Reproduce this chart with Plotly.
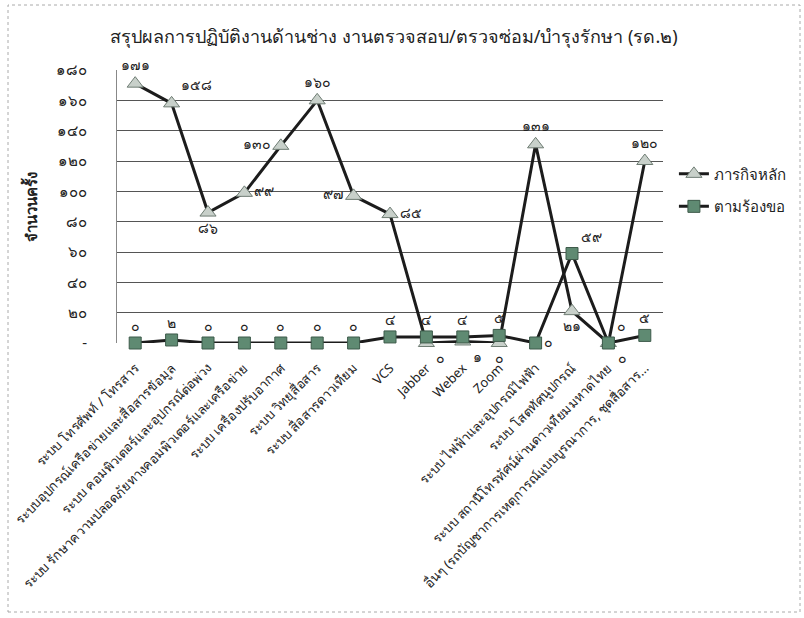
import plotly.graph_objects as go

title = "สรุปผลการปฏิบัติงานด้านช่าง งานตรวจสอบ/ตรวจซ่อม/บำรุงรักษา (รด.๒)"
categories = [
    "ระบบ โทรศัพท์ / โทรสาร",
    "ระบบอุปกรณ์เครือข่ายและสื่อสารข้อมูล",
    "ระบบ คอมพิวเตอร์และอุปกรณ์ต่อพ่วง",
    "ระบบ รักษาความปลอดภัยทางคอมพิวเตอร์และเครือข่าย",
    "ระบบ เครื่องปรับอากาศ",
    "ระบบ วิทยุสื่อสาร",
    "ระบบ สื่อสารดาวเทียม",
    "VCS",
    "Jabber",
    "Webex",
    "Zoom",
    "ระบบ ไฟฟ้าและอุปกรณ์ไฟฟ้า",
    "ระบบ โสตทัศนูปกรณ์",
    "ระบบ สถานีโทรทัศน์ผ่านดาวเทียมมหาดไทย",
    "อื่นๆ (รถบัญชาการเหตุการณ์แบบบูรณาการ, ชุดสื่อสาร...",
]
main_mission = [171, 158, 86, 99, 130, 160, 97, 85, 0, 1, 0, 131, 21, 0, 120]
on_request = [0, 2, 0, 0, 0, 0, 0, 4, 4, 4, 5, 0, 59, 0, 5]
series_names = ["ภารกิจหลัก", "ตามร้องขอ"]
y_tickvals = [0, 20, 40, 60, 80, 100, 120, 140, 160, 180]
y_ticktext = ["-", "๒๐", "๔๐", "๖๐", "๘๐", "๑๐๐", "๑๒๐", "๑๔๐", "๑๖๐", "๑๘๐"]
y_title = "จำนวนครั้ง"

thai = str.maketrans("0123456789", "๐๑๒๓๔๕๖๗๘๙")
def th(v):
    return str(v).translate(thai)

main_pos = ["top center", "top right", "bottom center", "middle right", "middle left",
            "top center", "middle left", "middle right", "bottom right", "bottom right",
            "bottom center", "top center", "bottom center", "bottom right", "top center"]
req_pos = ["top center"] * 11 + ["middle right", "top right", "top right", "top center"]

FONT = "Noto Sans, DejaVu Sans, sans-serif"
x = list(range(len(categories)))

fig = go.Figure()
fig.add_trace(go.Scatter(
    x=x, y=main_mission, name=series_names[0], mode="lines+markers+text",
    legendgroup="a", cliponaxis=False,
    line=dict(color="#1c1c1c", width=3),
    marker=dict(symbol="triangle-up", size=14, color="#c8d0ca",
                line=dict(color="#6f7d74", width=1)),
    text=[th(v) for v in main_mission], textposition=main_pos,
    textfont=dict(size=14, color="#222222", family=FONT),
))
fig.add_trace(go.Scatter(
    x=x, y=on_request, name=series_names[1], mode="lines+markers+text",
    legendgroup="b", cliponaxis=False,
    line=dict(color="#1c1c1c", width=3),
    marker=dict(symbol="square", size=12, color="#5f8a72",
                line=dict(color="#3d5a4a", width=1)),
    text=[th(v) for v in on_request], textposition=req_pos,
    textfont=dict(size=14, color="#222222", family=FONT),
))

fig.update_layout(
    width=804, height=618,
    margin=dict(l=117, r=141, t=70, b=275),
    paper_bgcolor="white", plot_bgcolor="white",
    font=dict(family=FONT, color="#222222"),
    title=dict(text=title, x=0.49, xanchor="center", y=0.94, yanchor="middle",
               font=dict(size=18, color="#222222", family=FONT)),
    showlegend=True,
    legend=dict(x=1.02, y=0.56, xanchor="left", yanchor="middle",
                font=dict(size=15, color="#222222", family=FONT),
                bgcolor="rgba(0,0,0,0)", itemwidth=30, tracegroupgap=10),
    xaxis=dict(
        tickmode="array", tickvals=x, ticktext=categories, tickangle=-45,
        range=[-0.5, len(categories) - 0.5], showgrid=False, zeroline=False,
        showline=False, tickfont=dict(size=13, color="#222222", family=FONT),
        ticks="", ticklabelstandoff=14,
    ),
    yaxis=dict(
        range=[0, 180], tickmode="array", tickvals=y_tickvals, ticktext=y_ticktext,
        showgrid=True, gridcolor="#555555", gridwidth=1, zeroline=False,
        showline=True, linecolor="#888888", linewidth=1, ticks="",
        tickfont=dict(size=15, color="#222222", family=FONT),
        ticklabelstandoff=26,
        title=dict(text="<b>" + y_title + "</b>", font=dict(size=15, color="#222222", family=FONT),
                   standoff=14),
    ),
    shapes=[dict(type="rect", xref="paper", yref="paper",
                 x0=(8 - 117) / 546, x1=(800 - 117) / 546,
                 y0=(343 - 612) / 273, y1=(343 - 5) / 273,
                 line=dict(color="#aaaaaa", width=1, dash="dot"), layer="below")],
)

fig.write_html("out.html", config={"displayModeBar": False},
               post_script="document.body.style.margin='0px';")
